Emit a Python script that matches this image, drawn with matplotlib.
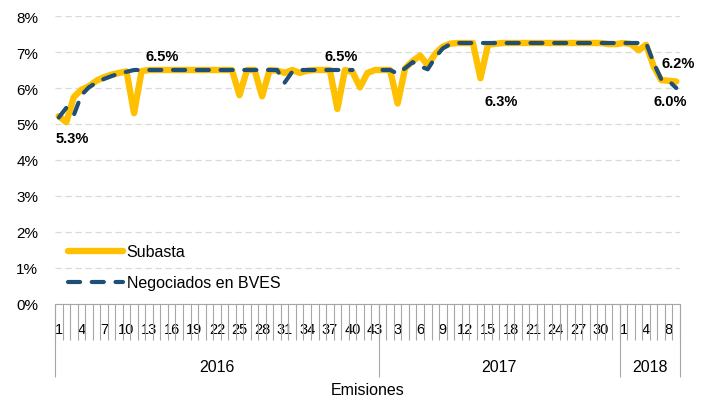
import numpy as np
import matplotlib
matplotlib.use('Agg')
import matplotlib.pyplot as plt

plt.rcParams['font.family'] = ['Liberation Sans Narrow', 'Liberation Sans', 'DejaVu Sans']

# category labels per year
labels_2016 = list(range(1, 44))
labels_2017 = list(range(1, 33))
labels_2018 = [1, 2, 3, 4, 5, 6, 8, 9]
years = ['2016', '2017', '2018']

# rates (%)
subasta = [
    5.22, 5.05, 5.75, 5.95, 6.05, 6.20, 6.30, 6.37, 6.42, 6.46,
    5.30, 6.47, 6.50, 6.50, 6.50, 6.50, 6.50, 6.50, 6.50, 6.50,
    6.50, 6.50, 6.50, 6.50, 5.80, 6.50, 6.50, 5.77, 6.50, 6.48,
    6.42, 6.50, 6.42, 6.48, 6.50, 6.50, 6.50, 5.42, 6.50, 6.45,
    6.02, 6.42, 6.50,
    6.50, 6.50, 5.57, 6.55, 6.75, 6.90, 6.63, 6.95, 7.15, 7.23,
    7.25, 7.25, 7.25, 6.27, 7.20, 7.23, 7.25, 7.25, 7.25, 7.25,
    7.25, 7.25, 7.25, 7.25, 7.25, 7.25, 7.25, 7.25, 7.25, 7.25,
    7.22, 7.22,
    7.25, 7.22, 7.05, 7.20, 6.60, 6.22, 6.20, 6.18,
]
bves = [
    5.18, 5.45, 5.25, 5.80, 6.02, 6.15, 6.25, 6.33, 6.40, 6.45,
    6.50, 6.50, 6.50, 6.50, 6.50, 6.50, 6.50, 6.50, 6.50, 6.50,
    6.50, 6.50, 6.50, 6.50, 6.50, 6.50, 6.50, 6.50, 6.50, 6.50,
    6.15, 6.45, 6.50, 6.50, 6.50, 6.50, 6.50, 6.50, 6.50, 6.50,
    np.nan, np.nan, np.nan,
    6.50, 6.50, 6.40, 6.55, 6.72, 6.60, 6.52, 6.85, 7.10, 7.22,
    7.25, 7.25, 7.25, 7.25, 7.25, 7.25, 7.25, 7.25, 7.25, 7.25,
    7.25, 7.25, 7.25, 7.25, 7.25, 7.25, 7.25, 7.25, 7.25, 7.25,
    7.25, 7.25,
    7.25, 7.25, 7.25, 7.25, 6.70, 6.25, 6.20, 6.00,
]

# data labels: (text, x position in categories, y in %)
point_labels = [
    ('5.3%', 2.26, 4.61),
    ('6.5%', 14.2, 6.89),
    ('6.5%', 38.0, 6.89),
    ('6.3%', 59.2, 5.64),
    ('6.2%', 82.7, 6.69),
    ('6.0%', 81.7, 5.64),
]

cat_labels = [str(v) for v in labels_2016 + labels_2017 + labels_2018]
n = len(cat_labels)
x = np.arange(n) + 0.5
bounds = [0, len(labels_2016), len(labels_2016) + len(labels_2017), n]

fig = plt.figure(figsize=(7.07, 4.02), dpi=100)
ax = fig.add_axes([55 / 707, 97 / 402, 625 / 707, 288 / 402])

grey = '#A6A6A6'
ax.set_ylim(0, 8)
ax.set_xlim(0, n)
ax.set_yticks(range(0, 9))
ax.set_yticklabels(['%d%%' % v for v in range(0, 9)])
ax.yaxis.grid(True, color='#D9D9D9', linestyle=(0, (5, 3)), linewidth=0.9)
ax.set_axisbelow(True)
for s in ['left', 'right', 'top']:
    ax.spines[s].set_visible(False)
ax.spines['bottom'].set_color(grey)
ax.tick_params(axis='y', length=0, pad=12, labelsize=11, colors='#000000')

ax.plot(x, subasta, color='#FFC000', linewidth=4.6, solid_joinstyle='round',
        solid_capstyle='round', label='Subasta')
blue, = ax.plot(x, bves, color='#1F4E79', linewidth=3.0, dash_capstyle='round',
                label='Negociados en BVES')
blue.set_dashes((2.9, 2.8))

for txt, px, py in point_labels:
    ax.text(px, py, txt, ha='center', va='center', fontsize=10.5, fontweight='bold')

# category axis: numbers every third category, separators between all
ax.set_xticks(x[::3])
ax.set_xticklabels(cat_labels[::3])
ax.set_xticks(np.arange(n + 1), minor=True)
ax.tick_params(axis='x', which='major', length=0, pad=13, labelsize=10.5)
ax.tick_params(axis='x', which='minor', length=26, width=0.8, color=grey)
ax.vlines(bounds, 0, -73 / 288, transform=ax.get_xaxis_transform(),
          color=grey, linewidth=0.8, clip_on=False)
for k, yr in enumerate(years):
    ax.text((bounds[k] + bounds[k + 1]) / 2, -63 / 288, yr,
            transform=ax.get_xaxis_transform(), ha='center', va='center', fontsize=11.5)
ax.text(0.5, -86 / 288, 'Emisiones', transform=ax.transAxes,
        ha='center', va='center', fontsize=11.5)

ax.legend(loc='upper left', bbox_to_anchor=(0.02, 0.207), frameon=False,
          fontsize=11.5, handlelength=3.5, handletextpad=0.2, labelspacing=1.0,
          borderpad=0, borderaxespad=0)

fig.savefig('out.png', dpi=100)
